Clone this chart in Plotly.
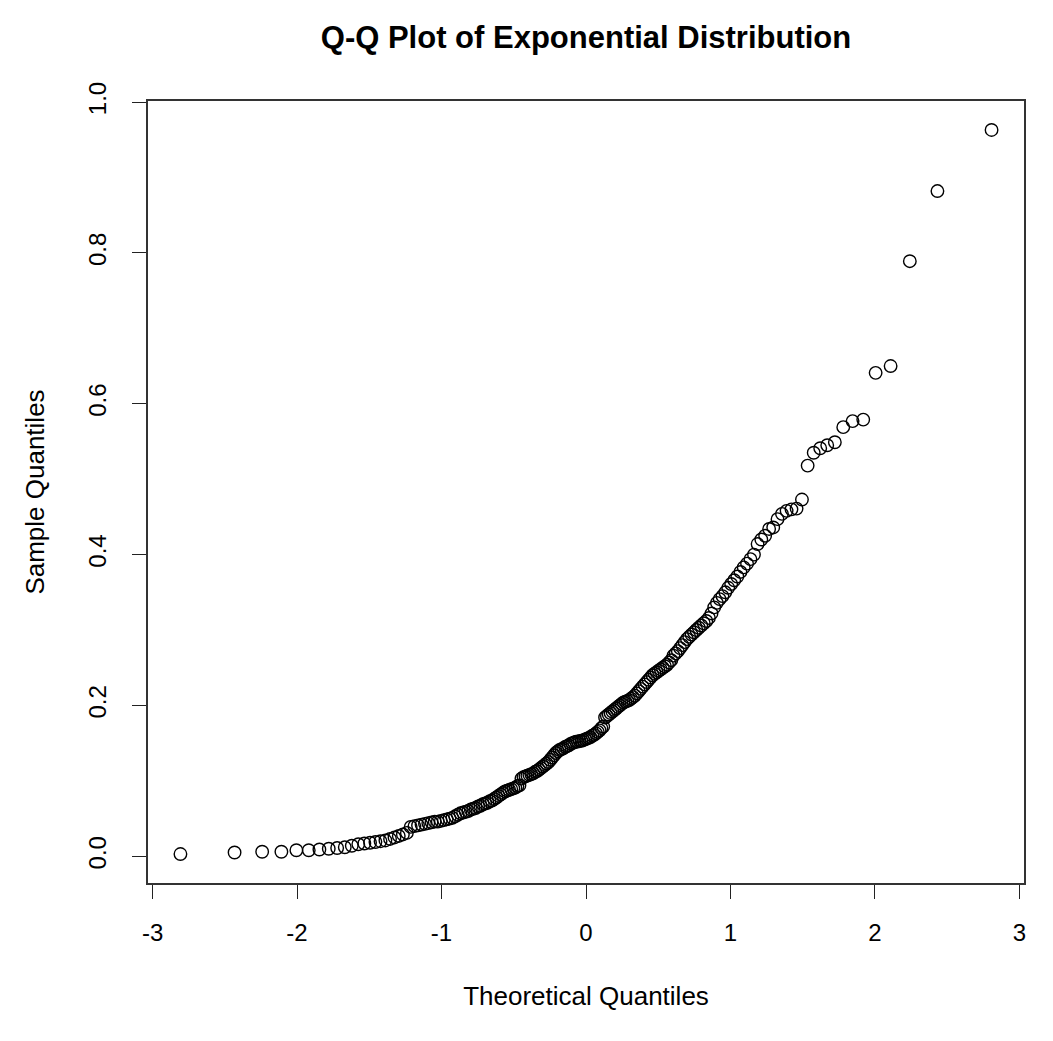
import plotly.graph_objects as go
from statistics import NormalDist

# Sample quantiles (sorted sample values), n = 200
sample_quantiles = [
    0.003, 0.005, 0.006, 0.006, 0.008, 0.008, 0.009, 0.010, 0.011, 0.012,
    0.014, 0.016, 0.017, 0.018, 0.019, 0.020, 0.021, 0.023, 0.025, 0.027,
    0.029, 0.031, 0.039, 0.040, 0.041, 0.042, 0.043, 0.044, 0.045, 0.046,
    0.046, 0.047, 0.048, 0.049, 0.050, 0.051, 0.053, 0.055, 0.057, 0.058,
    0.059, 0.060, 0.062, 0.063, 0.064, 0.066, 0.067, 0.069, 0.070, 0.071,
    0.073, 0.074, 0.076, 0.078, 0.080, 0.082, 0.084, 0.086, 0.087, 0.088,
    0.089, 0.090, 0.091, 0.093, 0.094, 0.103, 0.105, 0.106, 0.107, 0.108,
    0.109, 0.110, 0.112, 0.113, 0.115, 0.117, 0.119, 0.121, 0.123, 0.125,
    0.128, 0.131, 0.134, 0.137, 0.139, 0.141, 0.142, 0.143, 0.145, 0.146,
    0.147, 0.149, 0.150, 0.151, 0.152, 0.152, 0.153, 0.153, 0.154, 0.155,
    0.156, 0.157, 0.158, 0.160, 0.161, 0.163, 0.165, 0.167, 0.170, 0.172,
    0.184, 0.186, 0.188, 0.190, 0.192, 0.194, 0.196, 0.198, 0.200, 0.202,
    0.204, 0.205, 0.206, 0.207, 0.209, 0.211, 0.213, 0.216, 0.219, 0.222,
    0.225, 0.228, 0.231, 0.234, 0.237, 0.240, 0.242, 0.244, 0.246, 0.248,
    0.250, 0.252, 0.254, 0.257, 0.260, 0.266, 0.269, 0.272, 0.276, 0.280,
    0.284, 0.288, 0.291, 0.294, 0.297, 0.300, 0.303, 0.306, 0.309, 0.312,
    0.316, 0.322, 0.330, 0.336, 0.341, 0.345, 0.350, 0.356, 0.361, 0.366,
    0.371, 0.377, 0.383, 0.388, 0.394, 0.400, 0.414, 0.420, 0.425, 0.434,
    0.436, 0.447, 0.454, 0.458, 0.460, 0.461, 0.473, 0.518, 0.535, 0.541,
    0.545, 0.549, 0.569, 0.577, 0.579, 0.641, 0.650, 0.789, 0.882, 0.963,
]

x_tick_values = [-3, -2, -1, 0, 1, 2, 3]
y_tick_values = [0.0, 0.2, 0.4, 0.6, 0.8, 1.0]

title_text = "Q-Q Plot of Exponential Distribution"
x_title = "Theoretical Quantiles"
y_title = "Sample Quantiles"

# Theoretical normal quantiles, as qqnorm computes them (ppoints)
n = len(sample_quantiles)
a = 3 / 8 if n <= 10 else 0.5
theoretical = [NormalDist().inv_cdf((i + 1 - a) / (n + 1 - 2 * a)) for i in range(n)]

def padded(lo, hi):
    d = (hi - lo) * 0.04
    return [lo - d, hi + d]

FONT = "Liberation Sans, Arial, sans-serif"

fig = go.Figure()
fig.add_trace(go.Scatter(
    x=theoretical, y=sample_quantiles, mode="markers",
    marker=dict(symbol="circle-open", size=12.5, color="black", line=dict(width=1.4, color="black")),
    showlegend=False, hoverinfo="x+y",
))

fig.update_layout(
    width=1053, height=1041,
    margin=dict(l=148, r=29, t=101, b=158),
    paper_bgcolor="white", plot_bgcolor="white",
    font=dict(family=FONT, size=24, color="black"),
    title=dict(text="<b>" + title_text + "</b>", x=0.5, xref="paper", xanchor="center",
               y=1 - 37 / 1041, yref="container", yanchor="middle",
               font=dict(family=FONT, size=31, color="black")),
    xaxis=dict(range=padded(min(theoretical), max(theoretical)),
               tickvals=x_tick_values, ticktext=[str(v) for v in x_tick_values],
               ticks="outside", ticklen=14, tickwidth=1.2, tickcolor="#222",
               showline=True, linecolor="#333", linewidth=1.5, mirror=True,
               showgrid=False, zeroline=False,
               tickfont=dict(size=24), ticklabelstandoff=13,
               title=dict(text=x_title, font=dict(size=26), standoff=42)),
    yaxis=dict(range=padded(min(sample_quantiles), max(sample_quantiles)),
               tickvals=y_tick_values, ticktext=["%.1f" % v for v in y_tick_values],
               tickangle=-90,
               ticks="outside", ticklen=14, tickwidth=1.2, tickcolor="#222",
               showline=True, linecolor="#333", linewidth=1.5, mirror=True,
               showgrid=False, zeroline=False,
               tickfont=dict(size=24), ticklabelstandoff=17,
               title=dict(text=y_title, font=dict(size=26), standoff=32)),
)

fig.write_html("out.html")
